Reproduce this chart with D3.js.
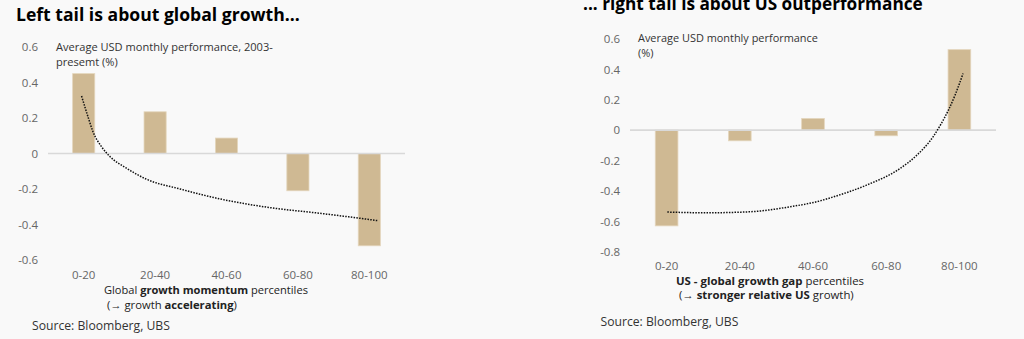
<!DOCTYPE html>
<html>
<head>
<meta charset="utf-8">
<script src="https://cdn.jsdelivr.net/npm/d3@7"></script>
<style>
  html, body { margin: 0; padding: 0; background: #f9f9f9; }
  svg { display: block; font-family: "Open Sans", sans-serif; }
</style>
</head>
<body>
<div id="chart-area"></div>
<script>
// data
var categories = ['0-20', '20-40', '40-60', '60-80', '80-100'];

var leftValues = [0.45, 0.235, 0.087, -0.21, -0.52];
var leftTicks = [0.6, 0.4, 0.2, 0, -0.2, -0.4, -0.6];
// dotted trend: [category position, value]
var leftTrend = [
  [-0.03, 0.324], [0.06, 0.207], [0.13, 0.123], [0.25, 0.038], [0.37, -0.018],
  [0.6, -0.083], [0.88, -0.145], [1.35, -0.2], [1.91, -0.256], [2.61, -0.305],
  [3.31, -0.337], [3.87, -0.365], [4.13, -0.379]
];

var rightValues = [-0.63, -0.07, 0.077, -0.037, 0.53];
var rightTicks = [0.6, 0.4, 0.2, 0, -0.2, -0.4, -0.6, -0.8];
var rightTrend = [
  [0.01, -0.539], [0.55, -0.544], [1.14, -0.537], [1.69, -0.504], [2.1, -0.465],
  [2.28, -0.439], [2.73, -0.362], [3.19, -0.252], [3.42, -0.164], [3.64, -0.044],
  [3.74, 0.033], [3.85, 0.132], [3.94, 0.23], [4.05, 0.373]
];

var width = 1024, height = 339;
var barColor = '#cfb993';

var svg = d3.select('#chart-area')
  .append('svg')
    .attr('width', width)
    .attr('height', height);

svg.append('rect')
  .attr('width', width)
  .attr('height', height)
  .attr('fill', '#f9f9f9');

// shrink or grow a text so it spans the same width as in the reference
var fitText = function (sel, base, target) {
  var w = sel.node().getComputedTextLength();
  if (w > 0) sel.attr('font-size', (base * target / w).toFixed(2) + 'px');
};

var drawPanel = function (p) {
  var g = svg.append('g');

  // title
  var title = g.append('text')
    .attr('x', p.titleX)
    .attr('y', p.titleY)
    .attr('font-size', '17px')
    .attr('font-weight', 'bold')
    .attr('fill', '#000')
    .text(p.title);
  fitText(title, 17, p.titleW);

  var xScale = d3.scaleBand()
    .domain(categories)
    .range(p.xRange)
    .paddingInner(0.69)
    .paddingOuter(0.345);

  var yScale = d3.scaleLinear()
    .domain(p.yDomain)
    .range(p.yRange);

  // y tick labels
  var yAxisCall = d3.axisLeft(yScale)
    .tickValues(p.ticks)
    .tickSize(0)
    .tickPadding(0)
    .tickFormat(function (d) { return String(d); });

  var yAxisGroup = g.append('g')
    .attr('transform', 'translate(' + p.yLabelX + ', 0)')
    .call(yAxisCall);
  yAxisGroup.select('.domain').remove();
  yAxisGroup.selectAll('text')
    .attr('font-family', '"Open Sans", sans-serif')
    .attr('font-size', '11.5px')
    .attr('fill', '#666');

  // bars
  g.selectAll('rect.bar')
    .data(p.values)
    .enter()
    .append('rect')
      .attr('class', 'bar')
      .attr('x', function (d, i) { return xScale(categories[i]); })
      .attr('y', function (d) { return yScale(Math.max(0, d)); })
      .attr('width', xScale.bandwidth())
      .attr('height', function (d) { return Math.abs(yScale(d) - yScale(0)); })
      .attr('fill', barColor)
      .attr('stroke', '#e4d6bd')
      .attr('stroke-width', 0.8);

  // zero line
  g.append('line')
    .attr('x1', p.xRange[0])
    .attr('x2', p.xRange[1])
    .attr('y1', yScale(0))
    .attr('y2', yScale(0))
    .attr('stroke', '#d9d9d9')
    .attr('stroke-width', 1.6);

  // dotted trend line
  var step = xScale.step();
  var x0 = xScale(categories[0]) + xScale.bandwidth() / 2;
  var line = d3.line()
    .x(function (d) { return x0 + d[0] * step; })
    .y(function (d) { return yScale(d[1]); })
    .curve(d3.curveMonotoneX);

  g.append('path')
    .datum(p.trend)
    .attr('d', line)
    .attr('fill', 'none')
    .attr('stroke', '#111')
    .attr('stroke-width', 1.5)
    .attr('stroke-dasharray', '1.5 1.3');

  // category labels
  var xAxisCall = d3.axisBottom(xScale)
    .tickSize(0)
    .tickPadding(0);

  var xAxisGroup = g.append('g')
    .attr('transform', 'translate(0, ' + p.catY + ')')
    .call(xAxisCall);
  xAxisGroup.select('.domain').remove();
  xAxisGroup.selectAll('text')
    .attr('dy', '0.32em')
    .attr('font-family', '"Open Sans", sans-serif')
    .attr('font-size', '11.5px')
    .attr('fill', '#666');

  // unit annotation (second line uses the size fitted on the first)
  var noteSize = null;
  p.note.forEach(function (t, i) {
    var n = g.append('text')
      .attr('x', p.noteX)
      .attr('y', p.noteY + i * 15)
      .attr('dy', '0.35em')
      .attr('font-size', '11px')
      .attr('fill', '#333')
      .text(t);
    if (i === 0) {
      fitText(n, 11, p.noteW);
      noteSize = n.attr('font-size');
    } else {
      n.attr('font-size', noteSize);
    }
  });

  // axis title, with bold runs
  p.axisTitle.forEach(function (parts, i) {
    var t = g.append('text')
      .attr('x', p.axisTitleX[i])
      .attr('y', p.axisTitleY[i])
      .attr('dy', '0.35em')
      .attr('font-size', '11px')
      .attr('fill', '#222');
    parts.forEach(function (part) {
      t.append('tspan')
        .attr('font-weight', part[1] ? 'bold' : 'normal')
        .text(part[0]);
    });
    fitText(t, 11, p.axisTitleW[i]);
  });

  // source
  var src = g.append('text')
    .attr('x', p.sourceX)
    .attr('y', p.sourceY)
    .attr('dy', '0.35em')
    .attr('font-size', '12px')
    .attr('fill', '#333')
    .text('Source: Bloomberg, UBS');
  fitText(src, 12, 138);
};

drawPanel({
  title: 'Left tail is about global growth...',
  titleX: 16, titleY: 21, titleW: 284,
  values: leftValues,
  ticks: leftTicks,
  trend: leftTrend,
  xRange: [48, 405],
  yDomain: [-0.6, 0.6],
  yRange: [260, 47],
  yLabelX: 38,
  catY: 275,
  note: ['Average USD monthly performance, 2003-', 'presemt (%)'],
  noteX: 56, noteY: 47, noteW: 217,
  axisTitle: [
    [['Global ', false], ['growth momentum', true], [' percentiles', false]],
    [['(\u2192 growth ', false], ['accelerating', true], [')', false]]
  ],
  axisTitleX: [104, 107],
  axisTitleY: [290.5, 305],
  axisTitleW: [204, 130],
  sourceX: 32, sourceY: 326
});

drawPanel({
  title: '... right tail is about US outperformance',
  titleX: 583, titleY: 10, titleW: 340,
  values: rightValues,
  ticks: rightTicks,
  trend: rightTrend,
  xRange: [630, 996],
  yDomain: [-0.8, 0.6],
  yRange: [251.7, 39],
  yLabelX: 620,
  catY: 266.5,
  note: ['Average USD monthly performance', '(%)'],
  noteX: 638, noteY: 38, noteW: 180,
  axisTitle: [
    [['US - global growth gap', true], [' percentiles', false]],
    [['(\u2192 ', false], ['stronger relative US', true], [' growth)', false]]
  ],
  axisTitleX: [676, 679],
  axisTitleY: [281, 295],
  axisTitleW: [188, 175],
  sourceX: 600.5, sourceY: 321.5
});
</script>
</body>
</html>
